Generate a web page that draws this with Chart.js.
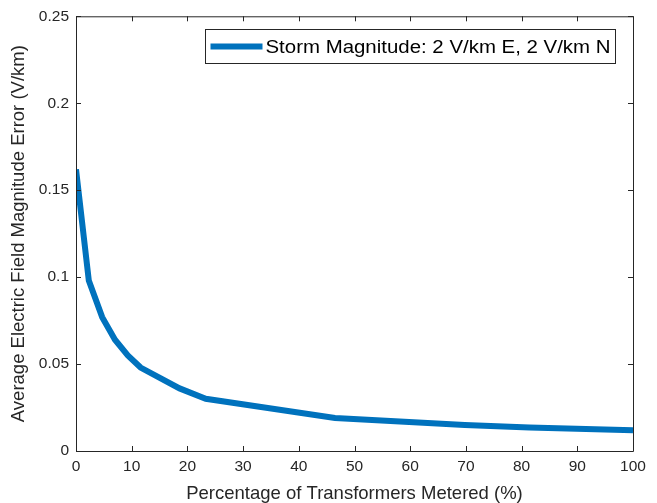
<!DOCTYPE html>
<html>
<head>
<meta charset="utf-8">
<script src="https://cdn.jsdelivr.net/npm/chart.js@4/dist/chart.umd.min.js"></script>
<style>
  html, body { margin: 0; padding: 0; background: #fff; }
  #wrap { width: 657px; height: 503px; }
</style>
</head>
<body>
<div id="wrap"><canvas id="error-canvas"></canvas></div>
<script>
// percentage of transformers metered
const pctMetered = [0, 2.3, 4.7, 7.0, 9.3, 11.6, 18.6, 23.3, 46.5, 69.8, 81.4, 100];
// average field magnitude error (V/km)
const avgError = [0.162, 0.098, 0.077, 0.064, 0.055, 0.048, 0.036, 0.030, 0.019, 0.015, 0.0135, 0.012];
const xTicks = [0, 10, 20, 30, 40, 50, 60, 70, 80, 90, 100];
const yTicks = [0, 0.05, 0.1, 0.15, 0.2, 0.25];

const seriesLabel = 'Storm Magnitude: 2 V/km E, 2 V/km N';
const axisColor = '#262626';
const font = 'Liberation Sans, Arial, sans-serif';

// MATLAB style box with inward ticks on all four sides
const boxPlugin = {
    id: 'matlabBox',
    afterDraw(chart) {
        const { ctx, chartArea: a, scales } = chart;
        ctx.save();
        ctx.strokeStyle = axisColor;
        ctx.lineWidth = 1;
        ctx.beginPath();
        ctx.rect(a.left + 0.5, a.top + 0.5, a.right - a.left, a.bottom - a.top);
        ctx.stroke();
        const len = 5;
        ctx.beginPath();
        xTicks.forEach(v => {
            const px = Math.round(scales.x.getPixelForValue(v)) + 0.5;
            ctx.moveTo(px, a.bottom); ctx.lineTo(px, a.bottom - len);
            ctx.moveTo(px, a.top); ctx.lineTo(px, a.top + len);
        });
        yTicks.forEach(v => {
            const py = Math.round(scales.y.getPixelForValue(v)) + 0.5;
            ctx.moveTo(a.left, py); ctx.lineTo(a.left + len, py);
            ctx.moveTo(a.right, py); ctx.lineTo(a.right - len, py);
        });
        ctx.stroke();

        // legend
        const lx = 205.5, ly = 29.5, lw = 410, lh = 34;
        ctx.fillStyle = '#fff';
        ctx.fillRect(lx, ly, lw, lh);
        ctx.strokeStyle = axisColor;
        ctx.strokeRect(lx, ly, lw, lh);
        const ds = chart.data.datasets[0];
        ctx.strokeStyle = ds.borderColor;
        ctx.lineWidth = ds.borderWidth;
        ctx.beginPath();
        ctx.moveTo(lx + 5, ly + lh / 2);
        ctx.lineTo(lx + 57, ly + lh / 2);
        ctx.stroke();
        ctx.fillStyle = '#000';
        ctx.font = '18px ' + font;
        ctx.textBaseline = 'middle';
        const tw = ctx.measureText(ds.label).width;
        ctx.translate(lx + 60, ly + lh / 2 + 1);
        ctx.scale(345 / tw, 1.05);
        ctx.fillText(ds.label, 0, 0);
        ctx.restore();
    }
};

new Chart(document.getElementById('error-canvas'), {
    type: 'line',
    data: {
        datasets: [{
            label: seriesLabel,
            data: pctMetered.map((x, i) => ({ x, y: avgError[i] })),
            borderColor: '#0072BD',
            borderWidth: 6,
            pointRadius: 0,
            fill: false,
            tension: 0
        }]
    },
    options: {
        responsive: true,
        maintainAspectRatio: false,
        animation: false,
        layout: { padding: { top: 11, right: 24, left: 0, bottom: 0 } },
        plugins: { legend: { display: false }, tooltip: { enabled: false } },
        scales: {
            x: {
                type: 'linear',
                min: 0, max: 100,
                afterBuildTicks(s) { s.ticks = xTicks.map(value => ({ value })); },
                afterFit(s) { s.height = 52; },
                grid: { display: false, drawTicks: false },
                border: { display: false },
                ticks: { color: axisColor, font: { family: font, size: 15.5 }, padding: 6, maxRotation: 0 },
                title: {
                    display: true,
                    text: 'Percentage of Transformers Metered (%)',
                    color: axisColor,
                    font: { family: font, size: 18.5, lineHeight: 1 },
                    padding: { top: 0, bottom: 0 }
                }
            },
            y: {
                min: 0, max: 0.25,
                afterBuildTicks(s) { s.ticks = yTicks.map(value => ({ value })); },
                afterFit(s) { s.width = 76; },
                grid: { display: false, drawTicks: false },
                border: { display: false },
                ticks: { color: axisColor, font: { family: font, size: 15.5 }, padding: 7,
                    callback: v => String(v) },
                title: {
                    display: true,
                    text: 'Average Electric Field Magnitude Error (V/km)',
                    color: axisColor,
                    font: { family: font, size: 18.5, lineHeight: 1 },
                    padding: { top: 10, bottom: 0 }
                }
            }
        }
    },
    plugins: [boxPlugin]
});
</script>
</body>
</html>
